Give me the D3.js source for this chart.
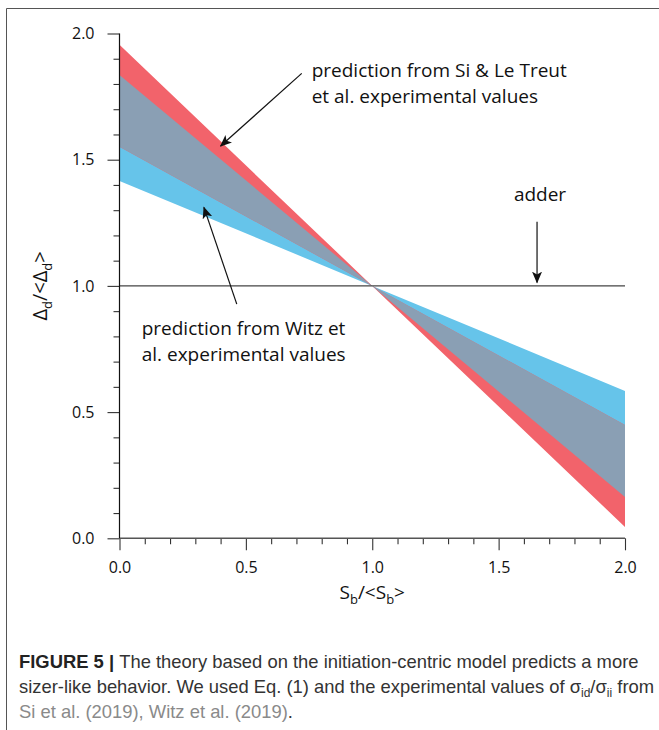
<!DOCTYPE html>
<html>
<head>
<meta charset="utf-8">
<script src="https://cdn.jsdelivr.net/npm/d3@7"></script>
<style>
  html, body { margin: 0; padding: 0; background: #fff; }
  svg { display: block; }
</style>
</head>
<body>
<svg id="chart" width="659" height="730"></svg>
<script>
// ---- data ----
const xVals = [0, 1, 2];
const redLineA = [1.955, 1.0, 0.045];
const redLineB = [1.551, 1.0, 0.449];
const blueLineA = [1.836, 1.0, 0.164];
const blueLineB = [1.416, 1.0, 0.584];
const adderLevel = 1.0;
const majorTicks = [0, 0.5, 1.0, 1.5, 2.0];
const minorTicks = [0.1,0.2,0.3,0.4,0.6,0.7,0.8,0.9,1.1,1.2,1.3,1.4,1.6,1.7,1.8,1.9];
const annSi = ["prediction from Si & Le Treut", "et al. experimental values"];
const annWitz = ["prediction from Witz et", "al. experimental values"];
const annAdder = "adder";

const svg = d3.select("#chart");
const FONT = "'Open Sans', 'Noto Sans', sans-serif";

svg.append("rect").attr("width", 659).attr("height", 730).attr("fill", "#fff");
// frame (top + left)
svg.append("path").attr("d", "M6.5,740 V8.5 H670").attr("fill", "none").attr("stroke", "#555").attr("stroke-width", 1);

const x = d3.scaleLinear().domain([0, 2]).range([119.5, 625]);
const y = d3.scaleLinear().domain([0, 2]).range([538.3, 33.5]);

const rows = xVals.map((v, i) => ({x: v, rA: redLineA[i], rB: redLineB[i], bA: blueLineA[i], bB: blueLineB[i]}));

const area = d3.area().x(d => x(d.x));
svg.append("path").datum(rows)
  .attr("d", area.y0(d => y(d.bA)).y1(d => y(d.bB))(rows))
  .attr("fill", "#66c4ea");
svg.append("path").datum(rows)
  .attr("d", area.y0(d => y(d.rA)).y1(d => y(d.rB))(rows))
  .attr("fill", "#f2636b");
svg.append("path").datum(rows)
  .attr("d", area
    .y0(d => y(Math.max(Math.min(d.rA, d.rB), Math.min(d.bA, d.bB))))
    .y1(d => y(Math.min(Math.max(d.rA, d.rB), Math.max(d.bA, d.bB))))(rows))
  .attr("fill", "#8a9fb4");

// adder line
svg.append("line")
  .attr("x1", x(0)).attr("x2", x(2))
  .attr("y1", y(adderLevel)).attr("y2", y(adderLevel))
  .attr("stroke", "#444").attr("stroke-width", 1.2);

// axes
function styleAxis(g) {
  g.select(".domain").remove();
  g.selectAll("line").attr("stroke", "#333").attr("stroke-width", 1.1);
  g.selectAll("text").attr("font-family", FONT).attr("font-size", 16).attr("fill", "#111");
}
const gx = svg.append("g").attr("transform", `translate(0,${y(0)})`);
gx.call(d3.axisBottom(x).tickValues(majorTicks).tickSize(12).tickPadding(11).tickFormat(d3.format(".1f")));
gx.append("g").call(d3.axisBottom(x).tickValues(minorTicks).tickSize(6).tickFormat(""));
gx.selectAll(".domain").remove();
styleAxis(gx);
gx.append("line").attr("x1", x(0)).attr("x2", x(2)).attr("stroke", "#555").attr("stroke-width", 1.4);

const gy = svg.append("g").attr("transform", `translate(${x(0)},0)`);
gy.call(d3.axisLeft(y).tickValues(majorTicks).tickSize(12).tickPadding(13).tickFormat(d3.format(".1f")));
gy.append("g").call(d3.axisLeft(y).tickValues(minorTicks).tickSize(6).tickFormat(""));
gy.selectAll(".domain").remove();
styleAxis(gy);
gy.append("line").attr("y1", y(0)).attr("y2", y(2)).attr("stroke", "#111").attr("stroke-width", 1.2);

// axis labels
const xl = svg.append("text").attr("x", x(1)).attr("y", 599).attr("text-anchor", "middle")
  .attr("font-family", FONT).attr("font-size", 19).attr("fill", "#111");
xl.append("tspan").text("S");
xl.append("tspan").text("b").attr("font-size", 13).attr("dy", 5);
xl.append("tspan").text("/<S").attr("dy", -5);
xl.append("tspan").text("b").attr("font-size", 13).attr("dy", 5);
xl.append("tspan").text(">").attr("dy", -5);

const yl = svg.append("text").attr("transform", `translate(47,${y(1)}) rotate(-90)`).attr("text-anchor", "middle")
  .attr("font-family", FONT).attr("font-size", 20).attr("fill", "#111");
yl.append("tspan").text("Δ");
yl.append("tspan").text("d").attr("font-size", 13).attr("dy", 5);
yl.append("tspan").text("/<Δ").attr("dy", -5);
yl.append("tspan").text("d").attr("font-size", 13).attr("dy", 5);
yl.append("tspan").text(">").attr("dy", -5);

// arrows
const defs = svg.append("defs");
defs.append("marker").attr("id", "ah").attr("viewBox", "0 0 12 10")
  .attr("refX", 11).attr("refY", 5).attr("markerWidth", 12).attr("markerHeight", 10)
  .attr("markerUnits", "userSpaceOnUse").attr("orient", "auto")
  .append("path").attr("d", "M0,0 L12,5 L0,10 L3,5 z").attr("fill", "#111");

function arrow(x1, y1, x2, y2) {
  svg.append("line")
    .attr("x1", x(x1)).attr("y1", y(y1)).attr("x2", x(x2)).attr("y2", y(y2))
    .attr("stroke", "#111").attr("stroke-width", 1.2).attr("marker-end", "url(#ah)");
}
arrow(0.721, 1.842, 0.400, 1.554);
arrow(0.464, 0.928, 0.334, 1.311);
arrow(1.652, 1.254, 1.652, 1.013);

function block(lines, xx, yy, anchor) {
  const t = svg.append("text").attr("font-family", FONT).attr("font-size", 19).attr("fill", "#111")
    .attr("text-anchor", anchor || "start");
  lines.forEach((s, i) => t.append("tspan").attr("x", xx).attr("y", yy + i * 26).text(s));
}
block(annSi, 311.7, 76.7);
block(annWitz, 141.7, 335);
block([annAdder], 540, 200.7, "middle");

// caption
const CF = "'Liberation Sans', Arial, sans-serif";
const CS = 18.4;
const c1 = svg.append("text").attr("x", 19).attr("y", 668).attr("font-family", CF).attr("font-size", CS).attr("fill", "#333");
c1.append("tspan").text("FIGURE 5 | ").attr("font-weight", "bold").attr("fill", "#222");
c1.append("tspan").text("The theory based on the initiation-centric model predicts a more");
const c2 = svg.append("text").attr("x", 19).attr("y", 693).attr("font-family", CF).attr("font-size", CS).attr("fill", "#333");
c2.append("tspan").text("sizer-like behavior. We used Eq. (1) and the experimental values of σ");
c2.append("tspan").text("id").attr("font-size", 12).attr("dy", 4);
c2.append("tspan").text("/σ").attr("dy", -4);
c2.append("tspan").text("ii").attr("font-size", 12).attr("dy", 4);
c2.append("tspan").text(" from").attr("dy", -4);
const c3 = svg.append("text").attr("x", 19).attr("y", 718).attr("font-family", CF).attr("font-size", CS).attr("fill", "#333");
c3.append("tspan").text("Si et al. (2019), Witz et al. (2019)").attr("fill", "#8a8a8a");
c3.append("tspan").text(".");
</script>
</body>
</html>
